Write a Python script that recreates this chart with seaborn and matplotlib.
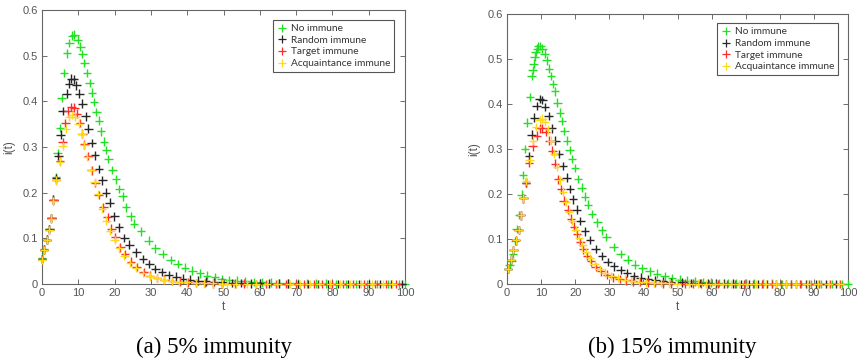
import matplotlib
matplotlib.use("Agg")
import matplotlib.pyplot as plt
from matplotlib.lines import Line2D
import pandas as pd
import seaborn as sns

series_names = ["No immune", "Random immune", "Target immune", "Acquaintance immune"]
series_colors = ["#22e022", "#262626", "#ff2a2a", "#ffd81a"]

y_ticks = [0, 0.1, 0.2, 0.3, 0.4, 0.5, 0.6]
y_tick_labels = ["0", "0.1", "0.2", "0.3", "0.4", "0.5", "0.6"]
x_ticks = [0, 10, 20, 30, 40, 50, 60, 70, 80, 90, 100]

# ---- (a) 5% immunity ----
t_a_none = [0, 0.6, 1.4, 2.0, 2.6, 3.1, 3.8, 4.3, 4.9, 5.4, 6.1, 6.9, 7.5, 8.3, 8.9, 9.8, 10.6,
            11.1, 11.7, 12.4, 13.1, 13.8, 14.3, 15.0, 15.7, 16.3, 17.1, 17.7, 18.3, 19.4, 20.4,
            21.3, 22.2, 23.2, 24.4, 25.4, 27.3, 29.4, 31.2, 33.2, 35.4, 37.4, 39.4, 41.4, 43.5,
            45.5, 47.7, 49.5, 51.6, 53.8, 56.0, 58.3, 60.6, 63.0, 65.4, 67.9, 70.4, 73.0, 75.6,
            78.3, 81.0, 83.8, 86.6, 89.5, 92.4, 95.4, 98.4, 100]
i_a_none = [0.056, 0.076, 0.097, 0.12, 0.145, 0.185, 0.234, 0.287, 0.342, 0.407, 0.462, 0.505,
            0.528, 0.544, 0.546, 0.535, 0.52, 0.504, 0.484, 0.462, 0.44, 0.419, 0.399, 0.377,
            0.358, 0.334, 0.312, 0.293, 0.274, 0.25, 0.229, 0.208, 0.192, 0.168, 0.148, 0.132,
            0.115, 0.095, 0.078, 0.066, 0.053, 0.044, 0.036, 0.029, 0.023, 0.018, 0.015, 0.011,
            0.009, 0.0072, 0.0057, 0.0045, 0.0035, 0.0027, 0.0021, 0.0016, 0.0012, 0.0009,
            0.0007, 0.0005, 0.0004, 0.0003, 0.0002, 0.0002, 0.0001, 0.0001, 0.0001, 0.0001]

t_a_random = [0, 0.6, 1.4, 2.0, 2.6, 3.1, 3.8, 4.5, 5.1, 5.7, 6.8, 7.4, 8.1, 8.8, 9.5, 10.3, 11.1,
              12.0, 12.8, 13.7, 14.6, 15.7, 16.6, 17.6, 18.6, 19.9, 21.2, 22.7, 24.1, 26.0, 27.8,
              29.6, 31.2, 33.0, 34.9, 37.0, 38.8, 40.8, 42.9, 45.1, 47.4, 49.7, 52.4, 54.9, 57.5,
              60.0, 62.6, 65.2, 67.8, 70.5, 73.2, 75.9, 78.7, 81.5, 84.4, 87.3, 90.2, 93.2, 96.2,
              99.2]
i_a_random = [0.055, 0.075, 0.097, 0.12, 0.145, 0.185, 0.232, 0.28, 0.327, 0.379, 0.417, 0.439,
              0.45, 0.448, 0.435, 0.417, 0.395, 0.367, 0.34, 0.309, 0.282, 0.252, 0.227, 0.2,
              0.178, 0.148, 0.124, 0.101, 0.086, 0.069, 0.055, 0.044, 0.033, 0.026, 0.020, 0.016,
              0.012, 0.0095, 0.0073, 0.0056, 0.0043, 0.0033, 0.0025, 0.0019, 0.0014, 0.0011,
              0.0008, 0.0006, 0.0005, 0.0004, 0.0003, 0.0002, 0.0002, 0.0001, 0.0001, 0.0001,
              0.0001, 0.0001, 0.0001, 0.0001]

t_a_target = [0, 0.6, 1.4, 2.0, 2.6, 3.1, 3.8, 4.9, 5.7, 6.4, 7.3, 8.1, 8.9, 9.6, 10.5, 11.1, 11.7,
              12.8, 13.7, 14.7, 15.6, 16.9, 18.1, 19.1, 20.2, 21.6, 22.9, 24.5, 26.1, 28.0, 29.8,
              31.7, 33.7, 35.8, 37.9, 40.1, 42.4, 44.8, 47.2, 49.7, 53.1, 55.6, 58.9, 61.7, 64.5,
              67.2, 69.9, 72.1, 74.9, 77.1, 80.0, 82.8, 85.8, 88.8, 91.7, 94.7, 97.6]
i_a_target = [0.055, 0.075, 0.097, 0.119, 0.144, 0.183, 0.228, 0.27, 0.31, 0.353, 0.378, 0.388,
              0.386, 0.373, 0.353, 0.329, 0.306, 0.28, 0.249, 0.221, 0.195, 0.168, 0.146, 0.121,
              0.102, 0.080, 0.066, 0.049, 0.037, 0.026, 0.018, 0.013, 0.0095, 0.0068, 0.0049,
              0.0035, 0.0025, 0.0018, 0.0013, 0.0009, 0.0006, 0.0005, 0.0003, 0.0002, 0.0002,
              0.0001, 0.0001, 0.0001, 0.0001, 0.0001, 0.0001, 0.0001, 0.0001, 0.0001, 0.0001,
              0.0001, 0.0001]

t_a_acq = [0, 0.6, 1.4, 2.0, 2.6, 3.1, 3.8, 4.9, 5.7, 6.5, 7.4, 8.3, 9.2, 10.1, 10.9, 11.7, 12.5,
           13.5, 14.5, 15.4, 16.5, 17.7, 18.8, 20.0, 21.2, 22.7, 24.3, 25.9, 27.8, 29.7, 31.6,
           33.6, 35.7, 37.8, 40.0, 42.3, 44.7, 47.1, 49.6, 51.0, 53.5, 56.5, 59.0, 62.0, 64.8,
           68.2, 71.0, 73.7, 76.4, 79.3, 82.0, 84.8, 87.8, 90.8, 93.9, 96.5]
i_a_acq = [0.053, 0.074, 0.096, 0.118, 0.143, 0.182, 0.227, 0.268, 0.302, 0.34, 0.366, 0.37,
           0.366, 0.351, 0.329, 0.304, 0.278, 0.249, 0.223, 0.197, 0.165, 0.139, 0.116, 0.096,
           0.078, 0.062, 0.046, 0.035, 0.024, 0.017, 0.013, 0.0092, 0.0065, 0.0046, 0.0033,
           0.0023, 0.0016, 0.0012, 0.0008, 0.0006, 0.0004, 0.0003, 0.0002, 0.0002, 0.0001,
           0.0001, 0.0001, 0.0001, 0.0001, 0.0001, 0.0001, 0.0001, 0.0001, 0.0001, 0.0001, 0.0001]

# ---- (b) 15% immunity ----
t_b_none = [0.3, 0.8, 1.3, 1.8, 2.3, 2.8, 3.5, 4.3, 4.7, 5.3, 6.0, 6.7, 7.2, 7.5, 7.8, 8.1, 8.4,
            8.8, 9.2, 9.8, 10.4, 11.0, 11.6, 12.3, 12.9, 13.5, 14.1, 14.8, 15.5, 16.1, 16.8,
            17.6, 18.4, 19.1, 19.9, 20.8, 21.9, 22.9, 23.7, 24.9, 26.5, 27.8, 29.1, 31.3, 33.3,
            35.4, 37.5, 39.7, 41.8, 44.0, 46.2, 48.4, 50.6, 52.8, 55.1, 57.4, 59.8, 62.2, 64.7,
            67.2, 69.8, 72.4, 75.1, 77.8, 80.6, 83.4, 86.3, 89.2, 92.2, 95.2, 98.3, 100]
i_b_none = [0.034, 0.042, 0.052, 0.067, 0.095, 0.122, 0.153, 0.198, 0.242, 0.299, 0.358, 0.415,
            0.461, 0.475, 0.489, 0.504, 0.515, 0.522, 0.527, 0.528, 0.522, 0.511, 0.496, 0.478,
            0.461, 0.444, 0.427, 0.402, 0.38, 0.362, 0.339, 0.318, 0.297, 0.277, 0.257, 0.233,
            0.214, 0.194, 0.176, 0.155, 0.137, 0.119, 0.104, 0.082, 0.067, 0.054, 0.043, 0.035,
            0.028, 0.023, 0.017, 0.013, 0.0096, 0.0075, 0.0058, 0.0044, 0.0033, 0.0025, 0.0019,
            0.0014, 0.0011, 0.0008, 0.0006, 0.0005, 0.0004, 0.0003, 0.0002, 0.0002, 0.0001,
            0.0001, 0.0001, 0.0001]

t_b_random = [0.3, 1.2, 1.9, 2.7, 3.4, 4.1, 4.8, 5.6, 6.5, 7.2, 8.0, 8.7, 9.6, 10.4, 11.2, 12.2,
              13.2, 14.2, 15.3, 16.4, 17.5, 18.5, 19.4, 20.4, 21.5, 22.9, 24.3, 26.0, 27.8, 29.5,
              31.4, 33.3, 35.2, 37.2, 39.2, 41.3, 43.5, 45.7, 48.0, 51.4, 54.0, 56.6, 58.9, 61.3,
              63.7, 66.2, 68.5, 71.0, 73.7, 76.3, 79.0, 81.8, 84.7, 87.6, 90.6, 93.6, 96.6]
i_b_random = [0.034, 0.054, 0.075, 0.097, 0.12, 0.152, 0.19, 0.225, 0.283, 0.331, 0.369, 0.395,
              0.41, 0.408, 0.393, 0.373, 0.345, 0.318, 0.288, 0.262, 0.236, 0.211, 0.188, 0.165,
              0.14, 0.117, 0.098, 0.078, 0.062, 0.049, 0.039, 0.031, 0.024, 0.018, 0.014, 0.0105,
              0.008, 0.006, 0.0045, 0.0034, 0.0025, 0.0019, 0.0014, 0.001, 0.0008, 0.0006, 0.0004,
              0.0003, 0.0002, 0.0002, 0.0001, 0.0001, 0.0001, 0.0001, 0.0001, 0.0001, 0.0001]

t_b_target = [0.3, 1.2, 1.9, 2.7, 3.4, 4.1, 4.8, 5.6, 6.5, 7.5, 8.7, 9.6, 10.4, 11.3, 12.3, 13.3,
              14.1, 15.0, 15.8, 16.6, 17.9, 18.8, 19.6, 20.5, 21.5, 22.4, 23.5, 24.6, 26.0, 27.6,
              29.3, 31.1, 33.0, 35.0, 37.0, 39.1, 41.3, 43.5, 45.8, 48.1, 52.2, 54.5, 57.0, 59.3,
              61.9, 64.4, 67.0, 69.6, 72.2, 74.9, 77.7, 80.3, 83.2, 85.9, 88.7, 91.5, 94.6, 97.6]
i_b_target = [0.034, 0.054, 0.075, 0.097, 0.12, 0.152, 0.19, 0.225, 0.268, 0.305, 0.329, 0.345,
              0.345, 0.337, 0.318, 0.296, 0.267, 0.232, 0.21, 0.185, 0.165, 0.145, 0.127, 0.11,
              0.093, 0.077, 0.062, 0.05, 0.038, 0.028, 0.021, 0.015, 0.011, 0.0083, 0.006, 0.0044,
              0.0032, 0.0023, 0.0017, 0.0012, 0.0009, 0.0006, 0.0005, 0.0003, 0.0002, 0.0002,
              0.0001, 0.0001, 0.0001, 0.0001, 0.0001, 0.0001, 0.0001, 0.0001, 0.0001, 0.0001,
              0.0001, 0.0001]

t_b_acq = [0.3, 1.2, 1.9, 2.7, 3.4, 4.1, 4.8, 5.6, 6.6, 7.6, 8.6, 9.6, 10.4, 11.2, 12.0, 12.9,
           13.8, 14.6, 15.5, 16.4, 17.3, 18.2, 19.1, 20.1, 21.1, 22.1, 23.2, 24.4, 25.7, 27.2,
           28.8, 30.6, 32.5, 34.5, 36.5, 38.6, 40.8, 43.0, 45.3, 47.6, 49.9, 53.5, 55.9, 58.5,
           60.9, 63.2, 65.7, 68.0, 70.5, 73.1, 75.9, 78.8, 81.7, 84.8, 87.9, 91.1, 94.3, 97.5]
i_b_acq = [0.034, 0.054, 0.075, 0.097, 0.12, 0.152, 0.19, 0.228, 0.275, 0.318, 0.348, 0.364,
           0.367, 0.36, 0.343, 0.318, 0.289, 0.26, 0.23, 0.205, 0.182, 0.16, 0.14, 0.12, 0.102,
           0.086, 0.071, 0.057, 0.044, 0.033, 0.025, 0.018, 0.013, 0.0095, 0.007, 0.0051,
           0.0037, 0.0027, 0.0019, 0.0014, 0.001, 0.0007, 0.0005, 0.0004, 0.0003, 0.0002,
           0.0002, 0.0001, 0.0001, 0.0001, 0.0001, 0.0001, 0.0001, 0.0001, 0.0001, 0.0001,
           0.0001, 0.0001]

panels = [
    dict(caption="(a) 5% immunity",
         t=[t_a_none, t_a_random, t_a_target, t_a_acq],
         i=[i_a_none, i_a_random, i_a_target, i_a_acq]),
    dict(caption="(b) 15% immunity",
         t=[t_b_none, t_b_random, t_b_target, t_b_acq],
         i=[i_b_none, i_b_random, i_b_target, i_b_acq]),
]


def long_frame(ts, vals):
    parts = [pd.DataFrame({"t": t, "i": v, "series": name})
             for name, t, v in zip(series_names, ts, vals)]
    return pd.concat(parts, ignore_index=True)


sns.set_style("ticks")
plt.rcParams["font.family"] = ["Liberation Sans", "DejaVu Sans"]

fig = plt.figure(figsize=(8.58, 3.61), dpi=100)
W, H = 858.0, 361.0
axes_px = [(42, 405, 10, 284), (507, 848, 13.5, 284)]
caption_x = [213.5, 672]
legend_anchor = [(0.9705, 0.9635), (0.9715, 0.9638)]
palette = dict(zip(series_names, series_colors))
grey = "#555555"

for k, panel in enumerate(panels):
    x0, x1, ytop, ybot = axes_px[k]
    ax = fig.add_axes([x0 / W, 1 - ybot / H, (x1 - x0) / W, (ybot - ytop) / H])
    df = long_frame(panel["t"], panel["i"])
    sns.scatterplot(data=df, x="t", y="i", hue="series", hue_order=series_names,
                    palette=palette, marker="+", s=38, linewidth=1.0,
                    legend=False, ax=ax, zorder=3, clip_on=False)
    ax.set_xlim(0, 100)
    ax.set_ylim(0, 0.6)
    ax.set_xticks(x_ticks)
    ax.set_yticks(y_ticks)
    ax.set_yticklabels(y_tick_labels)
    ax.tick_params(direction="in", length=3.5, width=0.6, top=True, right=True,
                   labelsize=8, colors=grey, pad=3)
    for sp in ax.spines.values():
        sp.set_color("#666666")
        sp.set_linewidth(0.8)
    ax.set_xlabel("t", fontsize=8.5, color=grey, labelpad=2)
    ax.set_ylabel("i(t)", fontsize=8.5, color=grey, labelpad=5)

    handles = [Line2D([], [], linestyle="none", marker="+", markersize=6,
                      markeredgewidth=0.9, color=c) for c in series_colors]
    leg = ax.legend(handles, series_names, loc="upper right",
                    bbox_to_anchor=legend_anchor[k], borderaxespad=0,
                    prop={"family": "Lato", "size": 7.3}, frameon=True, fancybox=False,
                    framealpha=1, edgecolor="#555555", borderpad=0.4, labelspacing=0.25,
                    handlelength=1.0, handletextpad=0.35)
    leg.get_frame().set_linewidth(0.8)
    for txt in leg.get_texts():
        txt.set_color("#333333")

    fig.text(caption_x[k] / W, 1 - 353 / H, panel["caption"], ha="center",
             va="baseline", fontsize=16.5, family="Liberation Serif", color="black")

fig.savefig("out.png", dpi=100)
